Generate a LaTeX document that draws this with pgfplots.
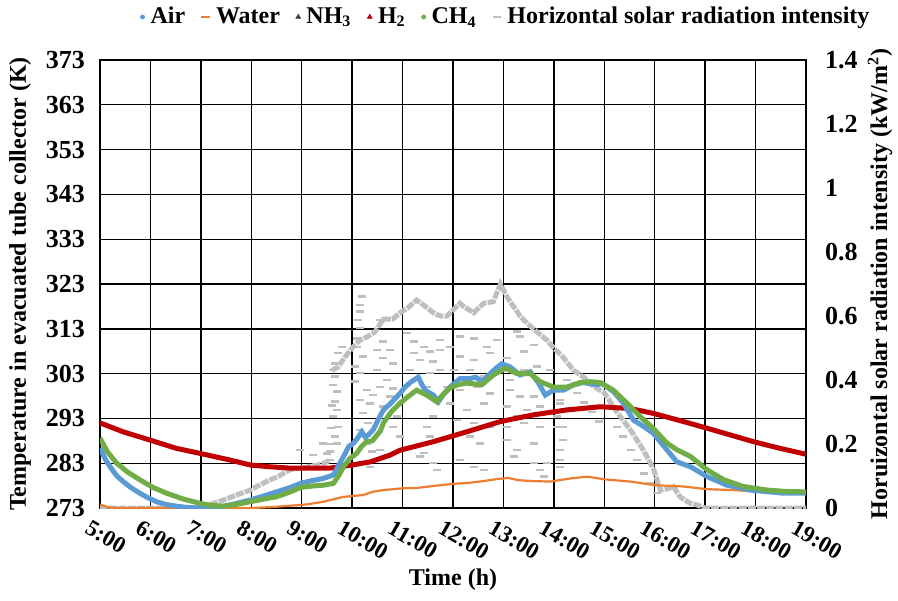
\documentclass[border=0pt]{standalone}
\usepackage{pgfplots}
\pgfplotsset{compat=1.18}
\usepackage{fontspec}
\setmainfont{Liberation Serif}
\definecolor{cair}{HTML}{5B9BD5}
\definecolor{cwater}{HTML}{ED7D31}
\definecolor{ch}{HTML}{C00000}
\definecolor{cch}{HTML}{70AD47}
\definecolor{cgray}{HTML}{BFBFBF}
\definecolor{cnh}{HTML}{404040}
\begin{document}
\begin{tikzpicture}
\path[use as bounding box] (-50pt,-46pt) rectangle (399pt,254pt);
\pgfplotsset{base/.style={width=353pt,height=224pt,scale only axis,xmin=5,xmax=19,
  /pgf/number format/assume math mode=true,
  tick label style={font=\fontsize{13}{15}\selectfont\bfseries},
  label style={font=\fontsize{12}{14}\selectfont\bfseries},
  major tick length=0pt}}
% Axis A: grid and temperature scale
\begin{axis}[base, ymin=273, ymax=373, ytick={273,283,...,373},
  xtick={5,...,19},
  xticklabels={5:00,6:00,7:00,8:00,9:00,10:00,11:00,12:00,13:00,14:00,15:00,16:00,17:00,18:00,19:00},
  grid=major, grid style={black, line width=0.7pt},
  axis line style={black, line width=0.8pt},
  xticklabel style={font=\fontsize{11.5}{13}\selectfont\bfseries, rotate=-30, anchor=north west, inner sep=1pt, xshift=-2pt, yshift=-6pt},
  yticklabel style={xshift=-4pt},
  xlabel={Time (h)},
  ylabel={Temperature in evacuated tube collector (K)},
  xlabel style={at={(axis description cs:0.5,-0.161)}, anchor=center},
  ylabel style={at={(axis description cs:-0.113,0.5)}, anchor=center}]
\end{axis}
% Axis B: radiation
\begin{axis}[base, ymin=0, ymax=1.4, axis y line*=right, axis x line=none,
  ytick={0,0.2,0.4,0.6,0.8,1,1.2,1.4},
  yticklabel style={xshift=6pt},
  axis line style={black, line width=0.8pt},
  ylabel={Horuizontal solar radiation intensity (kW/m\textsuperscript{2})},
  ylabel style={at={(axis description cs:1.105,0.5)}, anchor=center}]
\addplot[cgray, line width=2.5pt, dash pattern=on 4pt off 0.6pt] coordinates {
(5.00,0) (6.80,0) (7.00,0.004) (7.20,0.012) (7.45,0.025) (7.70,0.04) (7.98,0.056)
(8.20,0.075) (8.37,0.0875) (8.55,0.10) (8.77,0.12) (9.00,0.125) (9.15,0.13) (9.30,0.134) (9.45,0.14)
(9.56,0.15)};
\addplot[cgray, line width=2.5pt, dash pattern=on 4pt off 0.6pt] coordinates {
(9.60,0.43) (9.72,0.44) (9.85,0.47) (10.00,0.50) (10.16,0.525) (10.30,0.535)
(10.45,0.55) (10.62,0.59) (10.80,0.59) (10.95,0.61) (11.10,0.625) (11.28,0.65) (11.45,0.63)
(11.61,0.61) (11.75,0.60) (11.88,0.60) (12.01,0.62) (12.14,0.64) (12.21,0.63) (12.41,0.61)
(12.61,0.64) (12.80,0.645) (12.94,0.70) (13.07,0.66) (13.20,0.63) (13.33,0.60) (13.47,0.577)
(13.66,0.551) (13.86,0.525) (14.00,0.50) (14.19,0.47) (14.39,0.43) (14.58,0.41) (14.79,0.38)
(15.00,0.36) (15.25,0.30) (15.52,0.244) (15.78,0.18) (15.98,0.12) (16.11,0.056) (16.25,0.06)
(16.37,0.067) (16.50,0.035) (16.70,0.015) (16.83,0.01) (17.00,0.0) (19.00,0.0)};
\addplot[only marks, mark=-, mark size=2pt, cgray, line width=1.2pt] coordinates {
(8.97,0.181) (9.23,0.166) (9.43,0.202) (9.50,0.17) (9.58,0.20) (9.58,0.25) (9.60,0.32)
(9.795,0.504) (9.728,0.484) (9.662,0.452) (9.629,0.431) (9.662,0.411) (9.629,0.385)
(9.695,0.364) (9.662,0.333) (9.695,0.306) (9.629,0.286) (9.728,0.254) (9.662,0.223)
(9.695,0.202) (9.563,0.176) (9.563,0.150)
(10.191,0.661) (10.158,0.635) (10.158,0.614) (10.125,0.588) (10.158,0.562) (10.092,0.530)
(10.092,0.504) (10.224,0.473) (10.059,0.442) (10.158,0.421) (10.059,0.395) (10.291,0.369)
(10.158,0.338) (10.357,0.327) (10.224,0.296) (10.324,0.265) (10.158,0.244) (10.291,0.202)
(10.390,0.176) (10.357,0.129)
(10.555,0.588) (10.621,0.520) (10.489,0.494) (10.754,0.494) (10.621,0.468) (10.820,0.452)
(10.489,0.431) (10.687,0.400) (10.555,0.379) (10.820,0.374) (10.423,0.353) (10.754,0.348)
(10.621,0.317) (10.886,0.286) (10.820,0.254) (10.952,0.223) (10.555,0.181)
(11.084,0.546) (11.217,0.520) (11.415,0.504) (11.547,0.489) (11.746,0.494) (11.217,0.484)
(11.349,0.463) (11.613,0.458) (11.150,0.431) (11.547,0.421) (11.746,0.431) (11.481,0.379)
(11.613,0.286) (11.481,0.254) (11.547,0.223) (11.415,0.171) (11.613,0.140) (11.680,0.119)
(11.349,0.161)
(11.746,0.525) (11.94,0.504) (12.14,0.536) (12.41,0.530) (12.67,0.504) (12.87,0.525)
(13.27,0.551) (13.33,0.536) (12.14,0.473) (12.41,0.463) (12.74,0.484) (13.07,0.468)
(13.40,0.489) (13.60,0.510) (12.01,0.431) (12.34,0.431) (12.61,0.411) (12.87,0.431)
(13.14,0.400) (13.40,0.431) (13.66,0.442) (13.93,0.431) (11.88,0.379) (12.14,0.369)
(12.47,0.379) (12.74,0.358) (13.14,0.369) (13.33,0.348) (13.60,0.348) (14.26,0.400)
(11.94,0.327) (12.28,0.306) (12.61,0.327) (13.07,0.317) (13.27,0.286) (13.47,0.306)
(13.73,0.317) (14.13,0.327) (12.08,0.275) (12.41,0.265) (12.74,0.254) (13.07,0.254)
(13.40,0.265) (13.73,0.254) (14.06,0.254) (12.34,0.223) (12.54,0.202) (13.07,0.213)
(13.27,0.181) (13.60,0.202) (14.19,0.213) (12.14,0.150) (12.41,0.129) (12.61,0.119)
(13.20,0.161) (13.60,0.140) (13.73,0.119) (13.86,0.140) (14.13,0.150) (13.80,0.098)
(14.06,0.379) (14.13,0.338) (14.06,0.286) (14.19,0.254) (14.13,0.181) (14.13,0.129)
(14.45,0.36) (14.60,0.33) (14.75,0.30) (14.90,0.27)
(15.25,0.254) (15.38,0.223) (15.52,0.181) (15.65,0.150) (15.78,0.108) (15.91,0.077) (16.04,0.046)};
\end{axis}
% Axis C: temperature curves and legend
\begin{axis}[base, ymin=273, ymax=373, hide axis,
  legend columns=6,
  legend style={draw=none, fill=none, at={(axis description cs:0.5765,1.096)}, anchor=center,
    font=\fontsize{12}{14}\selectfont\bfseries,
    /tikz/every odd column/.append style={column sep=1pt},
    /tikz/every even column/.append style={column sep=6pt}},
  legend image code/.code={\draw[#1] plot coordinates {(0.08cm,0cm)};}]
\addplot[forget plot, cwater, line width=1.1pt] coordinates {
(5.00,273.8) (5.15,273.2) (5.30,273.0) (6.00,273.0) (7.00,273.0) (8.00,273.0) (8.40,273.2)
(8.77,273.5) (9.10,273.8) (9.43,274.4) (9.83,275.5) (10.22,275.9) (10.40,276.6) (10.62,277.0)
(11.00,277.4) (11.30,277.5) (11.60,277.9) (12.00,278.4) (12.30,278.6) (12.60,279.0) (12.90,279.5)
(13.10,279.7) (13.30,279.2) (13.60,279.0) (13.93,278.9) (14.33,279.6) (14.66,280.0) (15.00,279.4)
(15.52,278.9) (16.00,278.1) (16.57,277.8) (17.04,277.2) (17.56,277.0) (18.16,276.6) (18.60,276.3)
(19.00,276.3)};
\addplot[forget plot, ch, line width=2.5pt] coordinates {
(5.00,292.0) (5.46,290.0) (5.98,288.2) (6.52,286.3) (6.98,285.2) (7.58,283.7) (7.98,282.6)
(8.37,282.2) (8.77,281.9) (9.17,281.9) (9.56,281.9) (10.00,282.6) (10.36,283.3) (10.75,284.8)
(10.95,285.9) (11.61,287.8) (12.27,290.0) (12.94,292.3) (13.60,293.8) (14.26,294.9) (14.92,295.6)
(15.52,295.2) (15.98,294.1) (16.57,292.3) (17.04,290.8) (17.50,289.3) (17.96,287.8) (18.49,286.3)
(19.00,285.0)};
\addplot[forget plot, cair, line width=2.5pt] coordinates {
(5.00,286.4) (5.10,284.0) (5.20,282.2) (5.33,280.2) (5.46,278.9) (5.62,277.5) (5.79,276.3)
(5.95,275.3) (6.12,274.4) (6.30,273.8) (6.52,273.4) (6.75,273.1) (7.00,273.0) (7.20,273.1)
(7.45,273.4) (7.70,274.0) (7.98,274.8) (8.25,275.7) (8.50,276.6) (8.75,277.5) (8.98,278.5)
(9.20,279.1) (9.43,279.6) (9.63,280.4) (9.73,282.5) (9.83,284.5) (9.93,286.7) (10.03,287.5)
(10.12,288.8) (10.19,290.0) (10.26,288.8) (10.32,289.3) (10.42,290.5) (10.52,292.8) (10.62,294.9)
(10.75,296.2) (10.95,298.6) (11.05,300.0) (11.15,301.0) (11.31,302.2) (11.40,300.2) (11.45,299.3)
(11.61,298.2) (11.71,296.7) (11.82,298.5) (11.94,300.0) (12.14,301.9) (12.34,301.9) (12.45,302.2)
(12.58,301.2) (12.74,303.0) (12.85,304.2) (12.97,305.2) (13.13,304.5) (13.33,302.7) (13.53,303.4)
(13.69,301.0) (13.83,298.2) (13.99,299.3) (14.19,299.3) (14.39,300.5) (14.58,301.0) (14.86,300.5)
(14.95,300.8) (15.18,299.0) (15.38,296.4) (15.58,292.6) (15.78,291.2) (15.97,289.7) (16.24,286.0)
(16.44,283.3) (16.71,282.2) (17.04,280.0) (17.43,278.1) (17.90,277.0) (18.55,276.3) (19.00,276.3)};
\addplot[forget plot, cch, line width=2.5pt] coordinates {
(5.00,288.6) (5.15,285.5) (5.33,283.0) (5.55,281.0) (5.79,279.3) (6.05,277.6) (6.32,276.3)
(6.65,275.0) (7.00,274.0) (7.20,273.6) (7.45,273.4) (7.70,273.8) (7.98,274.4) (8.25,275.0)
(8.50,275.5) (8.75,276.5) (8.98,277.6) (9.20,277.9) (9.43,278.1) (9.63,278.5) (9.73,280.2)
(9.83,282.2) (9.95,284.0) (10.09,285.2) (10.19,286.8) (10.29,287.8) (10.40,288.0) (10.56,290.2)
(10.62,292.0) (10.78,294.5) (10.95,296.4) (11.10,297.8) (11.28,299.3) (11.48,298.2) (11.68,296.7)
(11.80,298.3) (11.94,299.8) (12.10,300.5) (12.27,300.9) (12.57,300.5) (12.80,302.7) (13.04,304.2)
(13.27,303.0) (13.53,303.0) (13.73,301.2) (13.99,300.0) (14.26,300.0) (14.52,301.0) (14.72,301.2)
(14.92,301.0) (15.18,299.3) (15.45,296.4) (15.71,293.4) (15.97,290.8) (16.24,287.5) (16.44,286.0)
(16.71,284.5) (17.04,281.5) (17.37,279.3) (17.76,277.8) (18.23,277.0) (18.60,276.7) (19.00,276.6)};
\addlegendimage{only marks, mark=*, mark size=1pt, cair}
\addlegendentry{Air}
\addlegendimage{only marks, mark=-, mark size=2.2pt, line width=1pt, cwater}
\addlegendentry{Water}
\addlegendimage{only marks, mark=triangle*, mark size=1.3pt, cnh}
\addlegendentry{NH\textsubscript{3}}
\addlegendimage{only marks, mark=triangle*, mark size=1.3pt, ch}
\addlegendentry{H\textsubscript{2}}
\addlegendimage{only marks, mark=*, mark size=1pt, cch}
\addlegendentry{CH\textsubscript{4}}
\addlegendimage{only marks, mark=-, mark size=2.2pt, line width=1pt, cgray}
\addlegendentry{Horizontal solar radiation intensity}
\end{axis}
\end{tikzpicture}
\end{document}
